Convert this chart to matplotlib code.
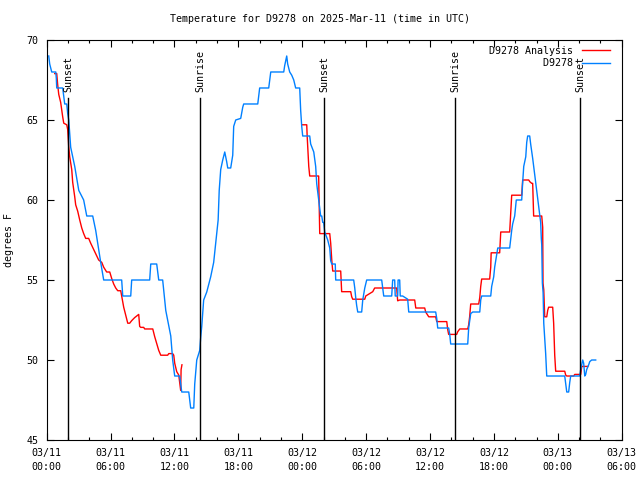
import matplotlib
matplotlib.use("Agg")
import matplotlib.pyplot as plt
import numpy as np

# hours since 2025-03-11 00:00 UTC
obs_hours = [0.19, 0.28, 0.47, 0.85, 0.90, 0.94, 1.50, 1.60, 1.69, 1.88, 1.97, 2.07, 2.25, 2.63,
             3.01, 3.47, 3.76, 4.32, 4.60, 5.07, 5.35, 7.04, 7.14, 7.89, 7.98, 9.67, 9.77,
             10.33, 10.52, 10.89, 11.18, 11.65, 11.83, 12.02, 12.49, 12.68, 13.34, 13.52,
             13.81, 13.90, 14.09, 14.37, 14.46, 14.56, 14.74, 15.03, 15.40, 15.68, 15.97,
             16.10, 16.20, 16.34, 16.53, 16.72, 16.90, 17.00, 17.28, 17.47, 17.56, 17.75,
             18.22, 18.41, 18.50, 19.82, 19.91, 20.00, 20.85, 20.94, 21.04, 22.26, 22.35,
             22.54, 22.63, 22.82, 23.01, 23.20, 23.38, 23.76, 23.85, 23.95, 24.04, 24.70,
             24.79, 25.08, 25.26, 25.36, 25.54, 25.73, 25.83, 25.92, 26.01, 26.11, 26.39,
             26.58, 26.67, 26.77, 27.10, 27.14, 28.83, 28.93, 29.02, 29.11, 29.21, 29.58,
             29.68, 29.87, 30.05, 31.46, 31.56, 31.65, 32.40, 32.49, 32.68, 32.73, 32.96,
             33.00, 33.15, 33.20, 33.43, 33.90, 34.00, 36.53, 36.63, 36.72, 37.75, 37.85,
             37.94, 39.54, 39.63, 39.82, 40.01, 40.67, 40.76, 40.85, 41.70, 41.79, 41.98,
             42.07, 42.26, 42.36, 43.48, 43.58, 43.67, 43.76, 43.95, 44.10, 44.61, 44.70,
             44.80, 44.99, 45.08, 45.17, 45.36, 45.45, 45.64, 45.83, 45.92, 46.11, 46.21,
             46.39, 46.45, 46.49, 46.55, 46.62, 46.68, 46.86, 46.96, 48.65, 48.74, 48.84,
             49.02, 49.12, 49.21, 50.06, 50.15, 50.34, 50.43, 50.53, 50.62, 50.71, 50.90,
             51.00, 51.18, 51.56]
obs_temp = [69.0, 68.5, 68.0, 68.0, 67.6, 67.0, 67.0, 66.5, 66.0, 66.0, 65.4, 65.0, 63.3, 62.1,
            60.6, 60.0, 59.0, 59.0, 58.1, 56.1, 55.0, 55.0, 54.0, 54.0, 55.0, 55.0, 56.0,
            56.0, 55.0, 55.0, 53.1, 51.5, 50.0, 49.0, 49.0, 48.0, 48.0, 47.0,
            47.0, 48.5, 50.0, 50.6, 51.4, 52.1, 53.75, 54.25, 55.2, 56.1, 57.9,
            58.75, 60.6, 61.9, 62.5, 63.0, 62.4, 62.0, 62.0, 62.8, 64.6, 65.0,
            65.1, 65.8, 66.0, 66.0, 66.5, 67.0, 67.0, 67.5, 68.0, 68.0, 68.4,
            69.0, 68.5, 68.0, 67.8, 67.5, 67.0, 67.0, 65.6, 64.6, 64.0, 64.0,
            63.5, 63.0, 62.1, 61.0, 60.0, 59.0, 59.0, 58.6, 58.6, 58.0, 57.5,
            57.0, 56.2, 56.0, 56.0, 55.0, 55.0, 54.5, 53.9, 53.4, 53.0, 53.0,
            53.75, 54.5, 55.0, 55.0, 54.5, 54.0, 54.0, 55.0, 55.0, 54.0, 54.0,
            55.0, 55.0, 54.0, 54.0, 53.8, 53.0, 53.0, 52.6, 52.0, 52.0, 51.6,
            51.0, 51.0, 52.0, 52.9, 53.0, 53.0, 53.75, 54.0, 54.0, 54.6, 55.2,
            55.8, 56.6, 57.0, 57.0, 57.6, 58.1, 58.5, 59.0, 60.0, 60.0, 61.1,
            62.1, 62.7, 63.6, 64.0, 64.0, 63.5, 62.6, 61.6, 61.1, 60.1, 59.6,
            58.6, 57.6, 57.2, 54.8, 54.2, 52.3, 50.4, 49.0, 49.0, 48.5, 48.0,
            48.0, 48.6, 49.0, 49.0, 49.4, 50.0, 49.8, 49.0, 49.1, 49.4, 49.7,
            49.9, 50.0, 50.0]

ana_hours = [0.75, 0.94, 1.03, 1.13, 1.31, 1.41, 1.50, 1.60, 1.88, 1.97, 2.07, 2.16, 2.35, 2.44,
             2.63, 2.72, 2.91, 3.10, 3.29, 3.47, 3.66, 3.94, 4.13, 4.41, 4.70, 4.88, 5.17,
             5.35, 5.63, 5.92, 6.10, 6.29, 6.48, 6.67, 6.95, 7.04, 7.23, 7.42, 7.61, 7.79,
             7.98, 8.26, 8.64, 8.73, 8.83, 9.11, 9.20, 9.96, 10.14, 10.33, 10.52, 10.71,
             11.36, 11.46, 11.83, 11.93, 12.02, 12.21, 12.40, 12.58, 12.62, 12.70,
             18.0,
             24.04, 24.42, 24.46, 24.61, 24.70, 25.54, 25.59, 25.64, 26.58, 26.67, 26.77,
             26.86, 27.61, 27.70, 28.55, 28.64, 28.74, 29.87, 29.96, 30.62, 30.80, 32.87,
             32.96, 33.15, 34.56, 34.66, 35.50, 35.59, 35.78, 35.88, 36.53, 36.63, 37.57,
             37.66, 37.75, 38.50, 38.60, 38.79, 39.54, 39.63, 39.72, 39.82, 40.57, 40.67,
             40.76, 40.85, 41.60, 41.70, 41.74, 42.54, 42.64, 43.48, 43.58, 43.67, 44.61,
             44.70, 45.27, 45.36, 45.55, 45.64, 45.73, 46.49, 46.58, 46.61, 46.68, 46.77,
             46.96, 47.05, 47.14, 47.52, 47.61, 47.71, 47.80, 48.65, 48.74, 48.84, 49.49,
             49.59, 50.15, 50.25, 50.81]
ana_temp = [67.9, 67.9, 67.2, 66.6, 66.1, 65.6, 65.2, 64.8, 64.7, 64.4, 63.3, 62.7, 61.9, 61.1,
            60.2, 59.7, 59.3, 58.75, 58.25, 57.9, 57.6, 57.6, 57.3, 56.9, 56.5, 56.25, 56.1,
            55.8, 55.5, 55.5, 55.1, 54.75, 54.5, 54.33, 54.33, 54.0, 53.3, 52.8, 52.3, 52.3,
            52.46, 52.65, 52.85, 52.1, 52.04, 52.04, 51.94, 51.94, 51.46, 51.04, 50.6, 50.3,
            50.3, 50.4, 50.4, 50.3, 49.8, 49.27, 49.06, 48.1, 49.4, 49.7,
            np.nan,
            64.7, 64.7, 64.0, 62.1, 61.5, 61.5, 59.8, 57.9, 57.9, 57.3, 56.25,
            55.56, 55.56, 54.27, 54.27, 53.96, 53.8, 53.8, 54.0, 54.27, 54.5, 54.5,
            53.7, 53.75, 53.75, 53.25, 53.25, 53.0, 52.8, 52.7, 52.7, 52.4, 52.4,
            51.9, 51.6, 51.6, 51.77, 51.94, 51.94, 52.2, 52.7, 53.5, 53.5, 53.9,
            54.6, 55.06, 55.06, 55.8, 56.7, 56.7, 58.0, 58.0, 59.2, 60.3, 60.3,
            61.25, 61.25, 61.15, 61.04, 61.04, 59.0, 59.0, 58.3, 54.8, 54.4, 52.7,
            52.7, 53.1, 53.3, 53.3, 52.3, 50.3, 49.3, 49.3, 49.06, 49.0, 49.0,
            49.1, 49.1, 49.6, 49.6]

sun_hours = [2.03, 14.43, 26.04, 38.38, 50.12]
sun_labels = ["Sunset", "Sunrise", "Sunset", "Sunrise", "Sunset"]

tick_hours = [0, 6, 12, 18, 24, 30, 36, 42, 48, 54]
tick_labels = ["03/11\n00:00", "03/11\n06:00", "03/11\n12:00", "03/11\n18:00", "03/12\n00:00",
               "03/12\n06:00", "03/12\n12:00", "03/12\n18:00", "03/13\n00:00", "03/13\n06:00"]

series_names = ["D9278 Analysis", "D9278"]

plt.rcParams["font.family"] = "DejaVu Sans Mono"
plt.rcParams["font.size"] = 7.2

fig = plt.figure(figsize=(6.4, 4.8), dpi=100)
ax = fig.add_axes([0.073, 0.0833, 0.8984, 0.8334])

# monospace font -> right-align labels with spaces, like gnuplot's key
breite = max(len(n) for n in series_names)
ax.plot(ana_hours, ana_temp, color="#ff0000", lw=1.0, label=series_names[0].rjust(breite))
ax.plot(obs_hours, obs_temp, color="#0080ff", lw=1.0, label=series_names[1].rjust(breite))

# vertical sunrise/sunset lines
for h, napis in zip(sun_hours, sun_labels):
    ax.axvline(h, ymin=0, ymax=0.855, color="black", lw=1.0)
    ax.text(h, 0.87, napis, rotation=90, ha="center", va="bottom",
            transform=ax.get_xaxis_transform())

ax.set_xlim(0, 54)
ax.set_ylim(45, 70)
ax.set_xticks(tick_hours)
ax.set_xticklabels(tick_labels, linespacing=1.45)
ax.set_xticks(np.arange(0, 55, 2), minor=True)
ax.set_yticks([45, 50, 55, 60, 65, 70])

ax.tick_params(which="major", direction="in", length=5, width=0.8, top=True, right=True)
ax.tick_params(which="minor", direction="in", length=2.5, width=0.8, top=True, right=False, left=False)
ax.tick_params(axis="x", pad=6)
ax.tick_params(axis="y", pad=6)
for s in ax.spines.values():
    s.set_linewidth(0.8)

ax.set_ylabel("degrees F", labelpad=9)
fig.text(0.5, 0.960, "Temperature for D9278 on 2025-Mar-11 (time in UTC)", ha="center", va="center")

ax.legend(loc="upper right", bbox_to_anchor=(0.99, 1.0), frameon=False, markerfirst=False,
          handlelength=2.8, handletextpad=0.9, labelspacing=0.25, borderaxespad=0.3, borderpad=0.3)

fig.savefig("out.png", dpi=100)
